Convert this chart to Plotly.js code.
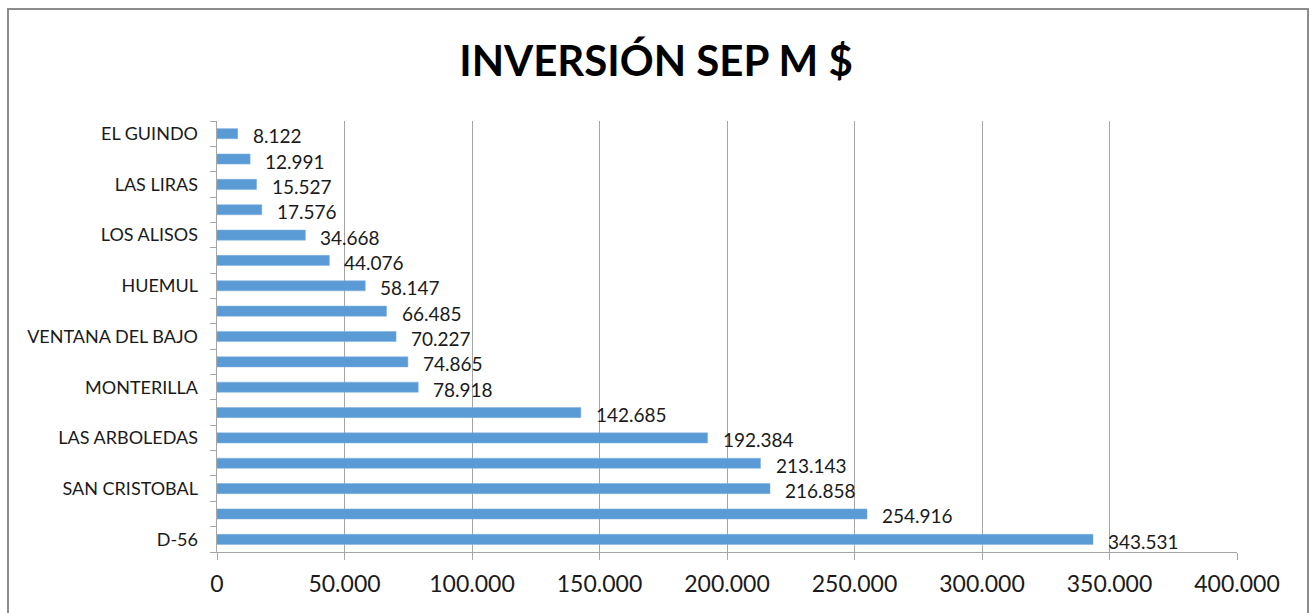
<!DOCTYPE html>
<html><head><meta charset="utf-8">
<script src="https://cdn.plot.ly/plotly-3.0.1.min.js"></script>
<style>
body{margin:0;padding:0;background:#fff;}
#chart{width:1312px;height:613px;}
#frame{position:absolute;left:7px;top:8px;width:1298px;height:620px;border:2px solid #8c8c8c;pointer-events:none;}
</style></head>
<body>
<div id="chart"></div>
<div id="frame"></div>
<script>
// bottom to top
const categories = ["D-56", "", "SAN CRISTOBAL", "", "LAS ARBOLEDAS", "", "MONTERILLA", "", "VENTANA DEL BAJO", "", "HUEMUL", "", "LOS ALISOS", "", "LAS LIRAS", "", "EL GUINDO"];
const values = [343531, 254916, 216858, 213143, 192384, 142685, 78918, 74865, 70227, 66485, 58147, 44076, 34668, 17576, 15527, 12991, 8122];
const xTicks = [0, 50000, 100000, 150000, 200000, 250000, 300000, 350000, 400000];

const idx = values.map((v, i) => i);
const fmt = v => v.toLocaleString('de-DE');
const fontFam = "Lato, 'Open Sans', sans-serif";

const traces = [{
  type: 'bar', orientation: 'h', x: values, y: idx, width: 0.4,
  marker: {color: '#5b9bd5', line: {color: '#7fb1e0', width: 0.5}},
  hoverinfo: 'x+y', showlegend: false
}, {
  type: 'scatter', mode: 'markers', x: [null], y: [null], yaxis: 'y2', showlegend: false, hoverinfo: 'skip'
}];

const annotations = values.map((v, i) => ({
  x: v, y: i, xref: 'x', yref: 'y', text: fmt(v), showarrow: false,
  xanchor: 'left', yanchor: 'middle', xshift: 13, yshift: -2,
  font: {family: fontFam, size: 19, color: '#1a1a1a'}
}));

const layout = {
  width: 1312, height: 613,
  margin: {l: 217, r: 75, t: 121, b: 61},
  paper_bgcolor: '#fff', plot_bgcolor: '#fff',
  separators: ',.',
  title: {text: '<b>INVERSIÓN SEP M $</b>', x: 0.5, xanchor: 'center', y: 0.9, yanchor: 'middle', yref: 'container',
    font: {family: fontFam, size: 42, color: '#000'}},
  xaxis: {range: [0, 400000], tickvals: xTicks, tickformat: ',d', showgrid: true, gridcolor: '#a6a6a6', gridwidth: 1,
    showline: true, linecolor: '#a6a6a6', linewidth: 1, ticks: 'outside', ticklen: 7, tickcolor: '#a6a6a6',
    ticklabelstandoff: 4,
    zeroline: false, tickfont: {family: fontFam, size: 23, color: '#1a1a1a'}, fixedrange: true},
  yaxis: {range: [-0.5, 16.5], tickvals: idx.map(i => i - 0.5).concat([16.5]), ticktext: idx.map(() => '').concat(['']),
    ticks: 'outside', ticklen: 6, tickcolor: '#a6a6a6', showgrid: false, zeroline: false,
    showline: true, linecolor: '#a6a6a6', linewidth: 1, fixedrange: true},
  yaxis2: {overlaying: 'y', side: 'left', range: [-0.5, 16.5], tickvals: idx, ticktext: categories,
    ticks: '', showgrid: false, zeroline: false, showline: false, ticklabelstandoff: 18,
    tickfont: {family: fontFam, size: 18, color: '#1a1a1a'}, fixedrange: true},
  annotations: annotations,
  showlegend: false
};

Plotly.newPlot('chart', traces, layout, {displayModeBar: false, staticPlot: true});
</script>
</body></html>
